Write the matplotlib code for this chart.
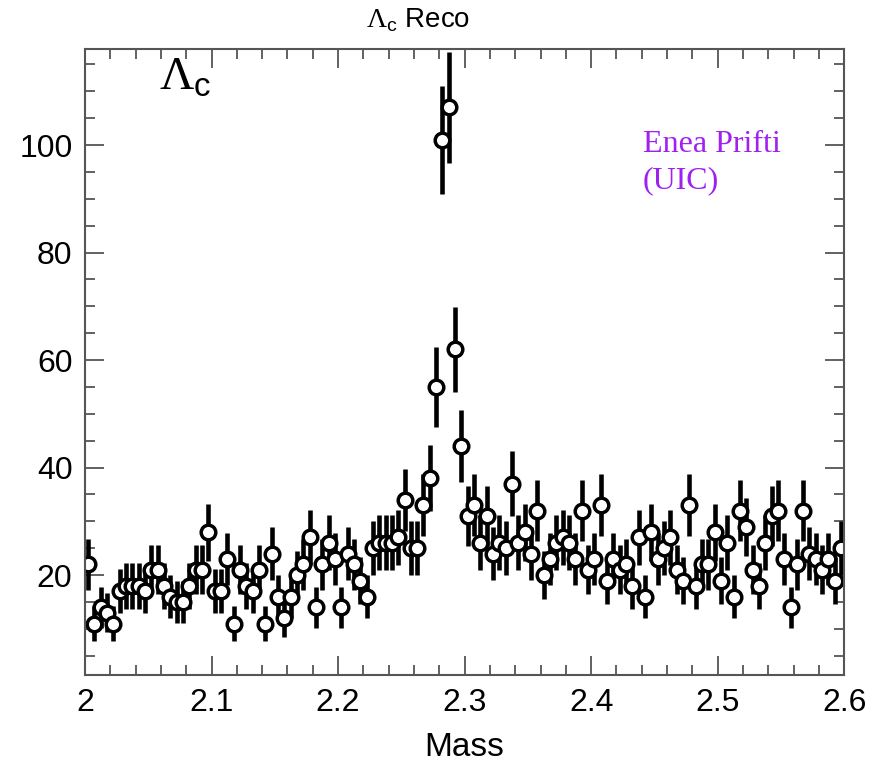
import numpy as np
import matplotlib
matplotlib.use("Agg")
import matplotlib.pyplot as plt
from matplotlib.ticker import MultipleLocator

plt.rcParams["font.family"] = ["Liberation Sans", "DejaVu Sans"]
plt.rcParams["mathtext.fontset"] = "custom"
plt.rcParams["mathtext.rm"] = "Liberation Serif"
plt.rcParams["mathtext.sf"] = "Liberation Sans"

# 120 bins of 5 MeV between 2.0 and 2.6
mass_lo, mass_hi, n_bins = 2.0, 2.6, 120
counts = [22, 11, 14, 13, 11, 17, 18, 18, 18, 17,
          21, 21, 18, 16, 15, 15, 18, 21, 21, 28,
          17, 17, 23, 11, 21, 18, 17, 21, 11, 24,
          16, 12, 16, 20, 22, 27, 14, 22, 26, 23,
          14, 24, 22, 19, 16, 25, 26, 26, 26, 27,
          34, 25, 25, 33, 38, 55, 101, 107, 62, 44,
          31, 33, 26, 31, 24, 26, 25, 37, 26, 28,
          24, 32, 20, 23, 26, 27, 26, 23, 32, 21,
          23, 33, 19, 23, 21, 22, 18, 27, 16, 28,
          23, 25, 27, 21, 19, 33, 18, 22, 22, 28,
          19, 26, 16, 32, 29, 21, 18, 26, 31, 32,
          23, 14, 22, 32, 24, 23, 21, 23, 19, 25]

edges = np.linspace(mass_lo, mass_hi, n_bins + 1)
centers = 0.5 * (edges[:-1] + edges[1:])
y = np.array(counts, dtype=float)
yerr = np.sqrt(y)

fig = plt.figure(figsize=(8.85, 7.62), dpi=100)
ax = fig.add_axes([0.096, 0.114, 0.858, 0.822])

ax.errorbar(centers, y, yerr=yerr, fmt="o", ms=10.5, mfc="white", mec="black",
            mew=2.5, ecolor="black", elinewidth=3.3, capsize=0)

ax.set_xlim(mass_lo, mass_hi)
ax.set_ylim(1.4, 117.9)
ax.xaxis.set_minor_locator(MultipleLocator(0.02))
ax.yaxis.set_minor_locator(MultipleLocator(5))
ax.set_xticks([2.0, 2.1, 2.2, 2.3, 2.4, 2.5, 2.6])
ax.set_xticklabels(["2", "2.1", "2.2", "2.3", "2.4", "2.5", "2.6"])
ax.set_yticks([20, 40, 60, 80, 100])
ax.tick_params(which="both", direction="in", top=True, right=True,
               color="#555555", width=1.3, labelsize=23)
ax.tick_params(which="major", length=14, pad=9)
ax.tick_params(which="minor", length=7)
for s in ax.spines.values():
    s.set_color("#555555")
    s.set_linewidth(1.5)

ax.set_xlabel("Mass", fontsize=24, labelpad=10)
fig.text(0.472, 0.974, r"$\Lambda_{\mathsf{c}}$ Reco", ha="center", va="center", fontsize=20)

ax.text(0.098, 0.99, r"$\Lambda_{\mathsf{c}}$", transform=ax.transAxes,
        ha="left", va="top", fontsize=34)
ax.text(0.735, 0.87, "Enea Prifti\n(UIC)", transform=ax.transAxes, ha="left", va="top",
        fontsize=23, color="#a020f0", family="Liberation Serif", linespacing=1.3)

fig.savefig("out.png", dpi=100)
